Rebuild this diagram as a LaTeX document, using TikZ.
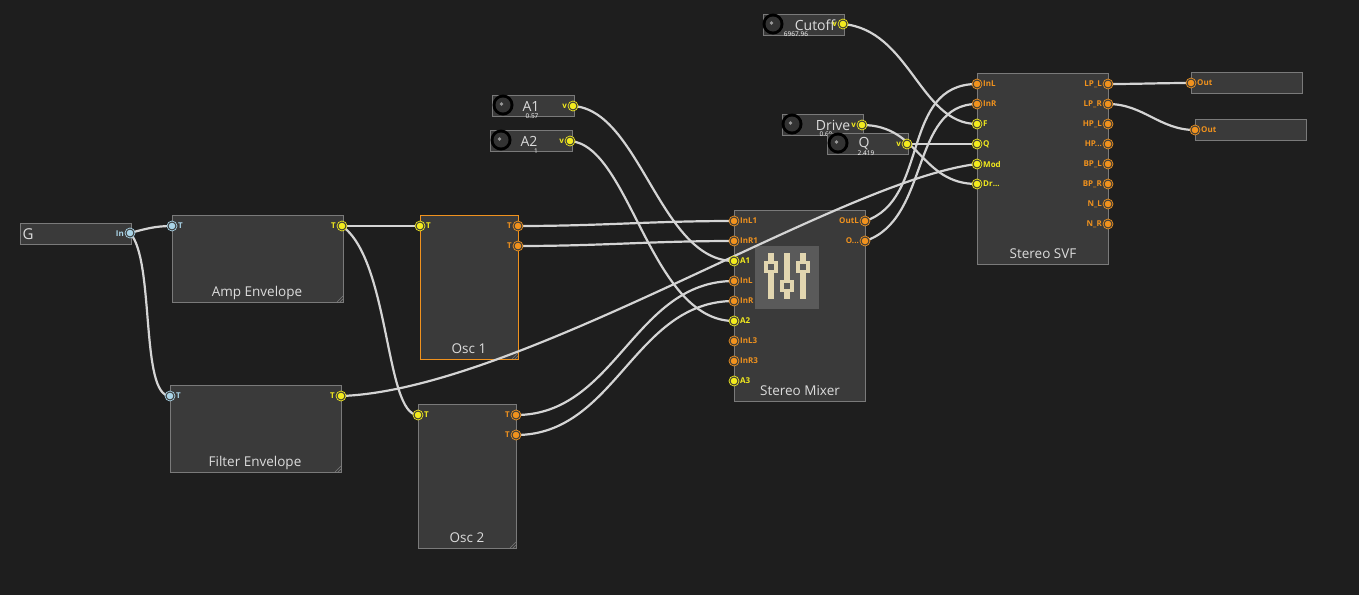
\documentclass[tikz,border=0pt]{standalone}
\usepackage{fontspec}
\setmainfont{Open Sans}
\pgfdeclarelayer{fg}
\pgfsetlayers{main,fg}
\definecolor{bgc}{HTML}{1E1E1E}
\definecolor{boxc}{HTML}{3A3A3A}
\definecolor{edgec}{HTML}{7A7A7A}
\definecolor{wirec}{HTML}{D4D4D4}
\definecolor{ylw}{HTML}{F2EA1E}
\definecolor{org}{HTML}{F0921E}
\definecolor{lbl}{HTML}{A9D3E6}
\definecolor{txtc}{HTML}{DCDCDC}
\definecolor{iconbg}{HTML}{5A5A5A}
\definecolor{iconfg}{HTML}{E2D6B0}
\newcommand\tdots{...}
\tikzset{
 x=1pt,y=-1pt,
 box/.style={draw=edgec,fill=boxc,line width=0.8pt,anchor=north west,inner sep=0},
 title/.style={text=txtc,font=\fontsize{13.5}{15}\selectfont,anchor=base},
 port/.style={circle,minimum size=10pt,inner sep=0,draw=#1,line width=0.7pt,fill=boxc,
   path picture={\fill[#1] (path picture bounding box.center) circle (3.3pt);}},
 pl/.style={font=\fontsize{8}{9}\selectfont\bfseries,text=#1,anchor=west,inner sep=0,xshift=6pt},
 pr/.style={font=\fontsize{8}{9}\selectfont\bfseries,text=#1,anchor=east,inner sep=0,xshift=-6pt},
 wire/.style={draw=wirec,line width=2.2pt},
 knobtxt/.style={text=txtc,font=\fontsize{14}{15}\selectfont},
 valtxt/.style={text=white,font=\fontsize{6.5}{7}\selectfont},
}
\newcommand\grip[2]{\foreach \d in {0,3,6}{\draw[edgec,line width=0.5pt] (#1-\d,#2) -- (#1,#2-\d);}}
\newcommand\knob[2]{\fill[black] (#1,#2) circle (10.5);\fill[black!60!gray] (#1,#2) circle (7.5);\fill[black!80] (#1,#2) circle (5.5);\fill[gray!80] (#1-1.5,#2-1) circle (1.8);}
\begin{document}
\begin{tikzpicture}
\fill[bgc] (0,0) rectangle (1359,595);
\useasboundingbox (0,0) rectangle (1359,595);
% boxes
\node[box,minimum width=111pt,minimum height=21pt] (G) at (20,223) {};
\node[text=txtc,font=\fontsize{15}{16}\selectfont,anchor=west] at (19,234) {G};
\node[box,minimum width=171pt,minimum height=87pt] (amp) at (172,215) {};
\node[title] at (257,296) {Amp Envelope};\grip{343}{302}
\node[box,minimum width=171pt,minimum height=87pt] (filt) at (170,385) {};
\node[title] at (255,466) {Filter Envelope};\grip{341}{472}
\node[box,draw=org,minimum width=98pt,minimum height=144pt] (osc1) at (420,215) {};
\node[title] at (469,353) {Osc 1};\grip{518}{359}
\node[box,minimum width=98pt,minimum height=144pt] (osc2) at (418,404) {};
\node[title] at (467,542) {Osc 2};\grip{516}{548}
\node[box,minimum width=131pt,minimum height=191pt] (mix) at (734,210) {};
\node[title] at (800,395) {Stereo Mixer};
\fill[iconbg] (755,246) rectangle (819,309);
\begin{scope}[iconfg]
\fill (768,253) rectangle (774,299);\fill (784,253) rectangle (790,299);\fill (800,253) rectangle (806,299);
\fill (764,261) rectangle (778,273);\fill (780,280) rectangle (794,292);\fill (796,261) rectangle (810,273);
\fill[iconbg] (768,264) rectangle (774,270);\fill[iconbg] (784,283) rectangle (790,289);\fill[iconbg] (800,264) rectangle (806,270);
\end{scope}
\node[box,minimum width=131pt,minimum height=191pt] (svf) at (977,73) {};
\node[title] at (1043,258) {Stereo SVF};
\node[box,minimum width=111pt,minimum height=21pt] (out1) at (1191,72) {};
\node[box,minimum width=111pt,minimum height=21pt] (out2) at (1195,119) {};
% knobs
\node[box,minimum width=82pt,minimum height=21pt] (kA1) at (492,95) {};
\knob{503}{105}\node[knobtxt] at (531,106) {A1};\node[valtxt] at (532,116) {0.57};\node[pr=ylw] at (573,106) {v};
\node[box,minimum width=82pt,minimum height=21pt] (kA2) at (490,130) {};
\knob{501}{140}\node[knobtxt] at (529,141) {A2};\node[valtxt] at (536,151) {1};\node[pr=ylw] at (570,141) {v};
\node[box,minimum width=81pt,minimum height=21pt] (kC) at (763,14) {};
\knob{773}{24}\node[knobtxt] at (815,25) {Cutoff};\node[valtxt] at (796,34) {6967.96};\node[pr=ylw] at (843,24) {v};
\node[box,minimum width=81pt,minimum height=21pt] (kD) at (782,114) {};
\knob{792}{124}\node[knobtxt] at (833,125) {Drive};\node[valtxt] at (826,134) {0.60};\node[pr=ylw] at (862,125) {v};
\node[box,minimum width=81pt,minimum height=21pt] (kQ) at (827,133) {};
\knob{838}{143}\node[knobtxt] at (864,144) {Q};\node[valtxt] at (866,153) {2.419};\node[pr=ylw] at (907,144) {v};
% ports
\begin{pgfonlayer}{fg}
\node[port=lbl] (gin) at (130,233) {};\node[pr=lbl] at (130,234) {In};
\node[port=lbl] (ampi) at (172,226) {};\node[pl=lbl] at (172,226) {T};
\node[port=ylw] (ampo) at (342,226) {};\node[pr=ylw] at (342,226) {T};
\node[port=lbl] (filti) at (170,396) {};\node[pl=lbl] at (170,396) {T};
\node[port=ylw] (filto) at (341,396) {};\node[pr=ylw] at (341,396) {T};
\node[port=ylw] (o1i) at (420,226) {};\node[pl=ylw] at (420,226) {T};
\node[port=org] (o1a) at (518,226) {};\node[pr=org] at (518,226) {T};
\node[port=org] (o1b) at (518,246) {};\node[pr=org] at (518,246) {T};
\node[port=ylw] (o2i) at (418,415) {};\node[pl=ylw] at (418,415) {T};
\node[port=org] (o2a) at (516,415) {};\node[pr=org] at (516,415) {T};
\node[port=org] (o2b) at (516,435) {};\node[pr=org] at (516,435) {T};
\node[port=ylw] (a1o) at (573,106) {};
\node[port=ylw] (a2o) at (570,141) {};
\node[port=ylw] (co) at (843,24) {};
\node[port=ylw] (dro) at (862,125) {};
\node[port=ylw] (qo) at (907,144) {};
\foreach \n/\lab/\c [count=\i from 0] in {mInLa/InL1/org,mInRa/InR1/org,mAa/A1/ylw,mInLb/InL/org,mInRb/InR/org,mAb/A2/ylw,mInLc/InL3/org,mInRc/InR3/org,mAc/A3/ylw}{
 \node[port=\c] (\n) at (734,221+20*\i) {};\node[pl=\c] at (734,221+20*\i) {\lab};}
\fill[iconbg] (755,276) rectangle (762,306);
\node[port=org] (mOL) at (865,221) {};\node[pr=org] at (865,221) {OutL};
\node[port=org] (mOR) at (865,241) {};\node[pr=org] at (865,241) {O\tdots};
\foreach \n/\lab/\c [count=\i from 0] in {sInL/InL/org,sInR/InR/org,sF/F/ylw,sQ/Q/ylw,sMod/Mod/ylw,sDr/Dr\tdots/ylw}{
 \node[port=\c] (\n) at (977,84+20*\i) {};\node[pl=\c] at (977,84+20*\i) {\lab};}
\foreach \n/\lab [count=\i from 0] in {sLPL/LP\_L,sLPR/LP\_R,sHPL/HP\_L,sHPR/HP\tdots,sBPL/BP\_L,sBPR/BP\_R,sNL/N\_L,sNR/N\_R}{
 \node[port=org] (\n) at (1108,84+20*\i) {};\node[pr=org] at (1108,84+20*\i) {\lab};}
\node[port=org] (out1i) at (1191,83) {};\node[pl=org] at (1191,83) {Out};
\node[port=org] (out2i) at (1195,130) {};\node[pl=org] at (1195,130) {Out};
\end{pgfonlayer}
% wires
\draw[wire] (gin.center) to[out=15,in=180] (ampi.center);
\draw[wire] (gin.center) .. controls (155,260) and (140,396) .. (filti.center);
\draw[wire] (ampo.center) -- (o1i.center);
\draw[wire] (ampo.center) .. controls (390,260) and (385,415) .. (o2i.center);
\draw[wire] (filto.center) .. controls (520,390) and (840,180) .. (sMod.center);
\draw[wire] (o1a.center) to[out=0,in=180] (mInLa.center);
\draw[wire] (o1b.center) to[out=0,in=180] (mInRa.center);
\draw[wire] (o2a.center) to[out=0,in=180] (mInLb.center);
\draw[wire] (o2b.center) to[out=0,in=180] (mInRb.center);
\draw[wire] (a1o.center) .. controls (640,110) and (660,261) .. (mAa.center);
\draw[wire] (a2o.center) .. controls (630,145) and (650,321) .. (mAb.center);
\draw[wire] (mOL.center) .. controls (930,200) and (900,84) .. (sInL.center);
\draw[wire] (mOR.center) .. controls (930,220) and (910,104) .. (sInR.center);
\draw[wire] (co.center) .. controls (910,30) and (920,124) .. (sF.center);
\draw[wire] (dro.center) .. controls (920,125) and (920,184) .. (sDr.center);
\draw[wire] (qo.center) -- (sQ.center);
\draw[wire] (sLPL.center) to[out=0,in=180] (out1i.center);
\draw[wire] (sLPR.center) to[out=0,in=180] (out2i.center);
\end{tikzpicture}
\end{document}
